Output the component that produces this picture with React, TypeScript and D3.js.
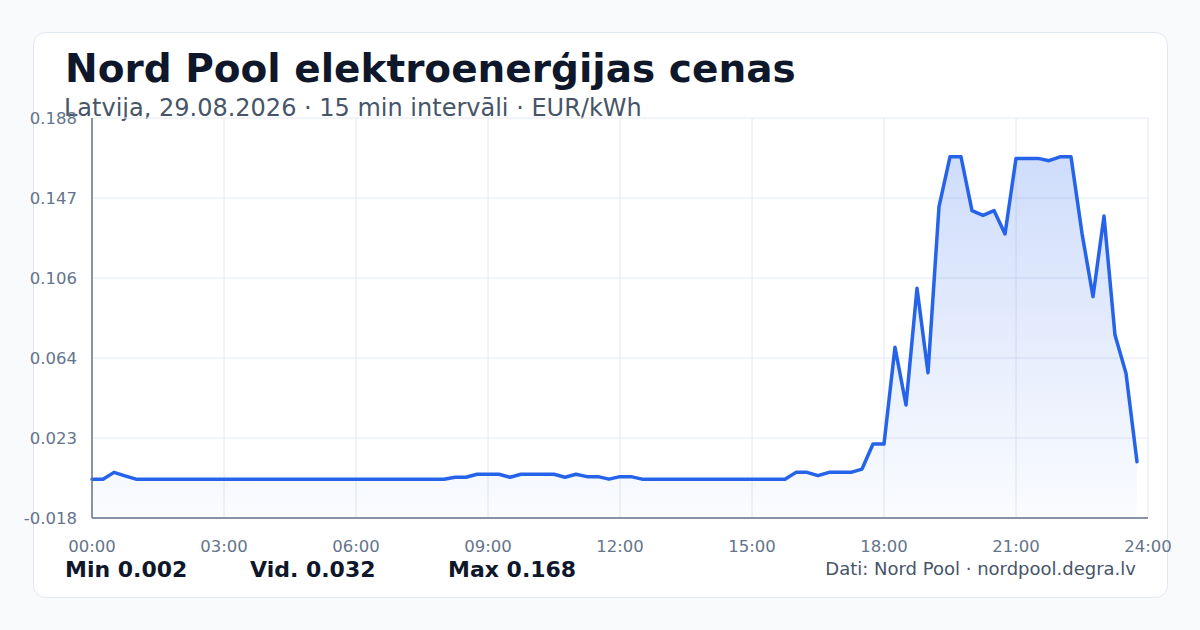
import React from "react";
import * as d3 from "d3";

const TITLE = "Nord Pool elektroenerģijas cenas";
const SUBTITLE = "Latvija, 29.08.2026 · 15 min intervāli · EUR/kWh";
const SOURCE = "Dati: Nord Pool · nordpool.degra.lv";

// 96 quarter-hour prices (EUR/kWh), 00:00 .. 23:45
const prices: number[] = [
  0.002, 0.002, 0.0055, 0.0037, 0.002, 0.002, 0.002, 0.002,
  0.002, 0.002, 0.002, 0.002, 0.002, 0.002, 0.002, 0.002,
  0.002, 0.002, 0.002, 0.002, 0.002, 0.002, 0.002, 0.002,
  0.002, 0.002, 0.002, 0.002, 0.002, 0.002, 0.002, 0.002,
  0.002, 0.003, 0.003, 0.0045, 0.0045, 0.0045, 0.003, 0.0045,
  0.0045, 0.0045, 0.0045, 0.003, 0.0045, 0.0033, 0.0033, 0.002,
  0.0033, 0.0033, 0.002, 0.002, 0.002, 0.002, 0.002, 0.002,
  0.002, 0.002, 0.002, 0.002, 0.002, 0.002, 0.002, 0.002,
  0.0055, 0.0055, 0.0038, 0.0055, 0.0055, 0.0055, 0.0072, 0.0201,
  0.0201, 0.0699, 0.0402, 0.1003, 0.0568, 0.1423, 0.168, 0.168,
  0.1403, 0.1379, 0.1403, 0.1283, 0.1672, 0.1672, 0.1672, 0.166,
  0.168, 0.168, 0.1286, 0.096, 0.1375, 0.0762, 0.0565, 0.011,
];

const xTickHours: number[] = [0, 3, 6, 9, 12, 15, 18, 21, 24];
const yDomain: [number, number] = [-0.018, 0.188];
const yTickCount = 6;

const W = 1200;
const H = 630;
const plot = { left: 92, right: 1148, top: 118, bottom: 518 };

export default function App() {
  const x = d3.scaleLinear().domain([0, 24]).range([plot.left, plot.right]);
  const y = d3.scaleLinear().domain(yDomain).range([plot.bottom, plot.top]);
  const yTicks = d3.range(yTickCount).map(
    (i) => yDomain[0] + ((yDomain[1] - yDomain[0]) * i) / (yTickCount - 1)
  );
  const pts = prices.map((v, i) => ({ h: i / 4, v }));
  const line = d3
    .line<{ h: number; v: number }>()
    .x((d) => x(d.h))
    .y((d) => y(d.v));
  const area = d3
    .area<{ h: number; v: number }>()
    .x((d) => x(d.h))
    .y0(plot.bottom)
    .y1((d) => y(d.v));

  const minV = d3.min(prices)!;
  const maxV = d3.max(prices)!;
  const avgV = d3.mean(prices)!;
  const fmt = (v: number) => v.toFixed(3);
  const font = "'DejaVu Sans', sans-serif";

  return (
    <svg
      width={W}
      height={H}
      style={{ position: "absolute", left: 0, top: 0, fontFamily: font }}
    >
      <defs>
        <linearGradient id="fillGrad" x1="0" y1="0" x2="0" y2="1">
          <stop offset="0%" stopColor="#2563eb" stopOpacity={0.22} />
          <stop offset="100%" stopColor="#2563eb" stopOpacity={0.02} />
        </linearGradient>
      </defs>
      <rect x={0} y={0} width={W} height={H} fill="#f8fafc" />
      <rect
        x={33.5}
        y={32.5}
        width={1134}
        height={565}
        rx={12}
        fill="#ffffff"
        stroke="#e2e8f0"
      />
      <text x={65} y={82} fontSize={39} fontWeight="bold" fill="#0f172a">
        {TITLE}
      </text>
      <text x={64} y={116} fontSize={24} fill="#475569">
        {SUBTITLE}
      </text>

      {yTicks.map((t, i) => (
        <line
          key={"gy" + i}
          x1={plot.left}
          x2={plot.right}
          y1={y(t)}
          y2={y(t)}
          stroke="#e2e8f0"
          strokeWidth={1}
        />
      ))}
      {xTickHours.map((h) => (
        <line
          key={"gx" + h}
          x1={x(h)}
          x2={x(h)}
          y1={plot.top}
          y2={plot.bottom}
          stroke="#e2e8f0"
          strokeWidth={1}
        />
      ))}

      <path d={area(pts) ?? ""} fill="url(#fillGrad)" />
      <path
        d={line(pts) ?? ""}
        fill="none"
        stroke="#2563eb"
        strokeWidth={3.5}
        strokeLinejoin="round"
        strokeLinecap="round"
      />

      <line
        x1={plot.left}
        x2={plot.left}
        y1={plot.top}
        y2={plot.bottom}
        stroke="#64748b"
        strokeWidth={1.5}
      />
      <line
        x1={plot.left}
        x2={plot.right}
        y1={plot.bottom}
        y2={plot.bottom}
        stroke="#64748b"
        strokeWidth={1.5}
      />

      {yTicks.map((t, i) => (
        <text
          key={"ty" + i}
          x={77}
          y={y(t)}
          dy="0.35em"
          textAnchor="end"
          fontSize={16.5}
          fill="#64748b"
        >
          {fmt(t)}
        </text>
      ))}
      {xTickHours.map((h) => (
        <text
          key={"tx" + h}
          x={x(h)}
          y={552}
          textAnchor="middle"
          fontSize={16.5}
          fill="#64748b"
        >
          {String(h).padStart(2, "0") + ":00"}
        </text>
      ))}

      <text x={65} y={577} fontSize={22} fontWeight="bold" fill="#0f172a">
        {"Min " + fmt(minV)}
      </text>
      <text x={250} y={577} fontSize={22} fontWeight="bold" fill="#0f172a">
        {"Vid. " + fmt(avgV)}
      </text>
      <text x={448} y={577} fontSize={22} fontWeight="bold" fill="#0f172a">
        {"Max " + fmt(maxV)}
      </text>
      <text
        x={1136}
        y={575}
        textAnchor="end"
        fontSize={18}
        fill="#475569"
      >
        {SOURCE}
      </text>
    </svg>
  );
}
